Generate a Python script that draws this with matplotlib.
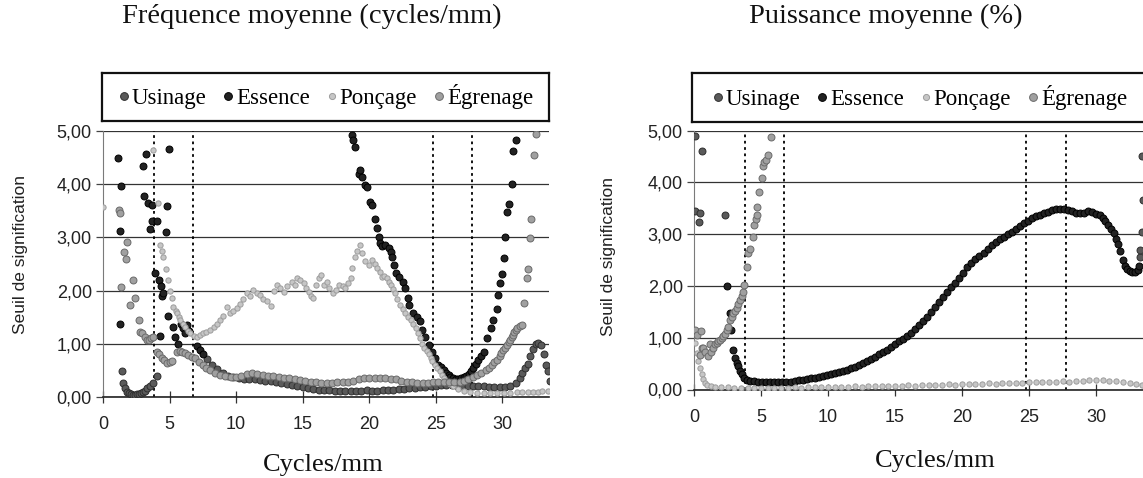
import matplotlib
matplotlib.use("Agg")
import matplotlib.pyplot as plt
from matplotlib.lines import Line2D
from matplotlib.ticker import FuncFormatter

SERIF = "Liberation Serif"
SANS = "Liberation Sans"

# --- Fréquence moyenne (cycles/mm) ---
fm_usinage_x = [1.43, 1.53, 1.65, 1.8, 1.95, 2.1, 2.25, 2.4, 2.55, 2.7, 2.85, 3.0, 3.15, 3.3, 3.5, 3.78, 4.08,
                7.8, 8.2, 8.6, 9.0, 9.4, 9.8, 10.2, 10.6, 11.0, 11.4, 11.8, 12.2, 12.6, 13.0, 13.4, 13.8, 14.2,
                14.6, 15.0, 15.4, 15.8, 16.2, 16.6, 17.0, 17.4, 17.8, 18.2, 18.6, 19.0, 19.4, 19.8, 20.2, 20.6,
                21.0, 21.4, 21.8, 22.2, 22.6, 23.0, 23.4, 23.8, 24.2, 24.6, 25.0, 25.4, 25.8, 26.2, 26.6, 27.0,
                27.4, 27.8, 28.2, 28.6, 29.0, 29.4, 29.8, 30.2, 30.6, 31.0, 31.3, 31.5, 31.7, 31.9, 32.1, 32.3,
                32.5, 32.7, 32.9, 33.1, 33.3, 33.4, 33.6]
fm_usinage_y = [0.48, 0.26, 0.16, 0.1, 0.07, 0.05, 0.04, 0.04, 0.05, 0.05, 0.07, 0.09, 0.12, 0.16, 0.2, 0.26, 0.4,
                0.72, 0.6, 0.52, 0.45, 0.4, 0.37, 0.35, 0.34, 0.33, 0.33, 0.32, 0.31, 0.3, 0.28, 0.26, 0.24, 0.22,
                0.2, 0.18, 0.16, 0.15, 0.14, 0.13, 0.13, 0.12, 0.12, 0.12, 0.12, 0.12, 0.12, 0.13, 0.12, 0.12,
                0.13, 0.13, 0.14, 0.15, 0.15, 0.16, 0.17, 0.18, 0.19, 0.2, 0.21, 0.22, 0.22, 0.22, 0.21, 0.21,
                0.2, 0.2, 0.2, 0.21, 0.19, 0.18, 0.18, 0.19, 0.21, 0.26, 0.35, 0.45, 0.55, 0.62, 0.78, 0.9,
                1.0, 1.02, 0.98, 0.8, 0.6, 0.48, 0.3]

fm_essence_x = [1.15, 1.35, 1.28, 1.28, 2.98, 3.23, 3.1, 3.41, 3.66, 3.66, 3.53, 4.03, 4.74, 4.84, 4.99, 3.91,
                4.24, 4.36, 4.41, 4.5, 4.29, 4.91, 5.29, 5.41, 5.6, 5.85, 6.0, 6.15, 6.3, 6.45, 7.09, 7.3, 7.5,
                18.7, 18.8, 18.95, 19.2, 19.3, 19.45, 19.7, 19.8, 20.08, 20.2, 20.45, 20.58, 20.7, 20.78, 20.95,
                21.2, 21.45, 21.6, 21.7, 21.83, 22.03, 22.2, 22.5, 22.7, 22.9, 23.0, 23.3, 23.6, 23.8, 23.96,
                24.2, 24.46, 24.7, 24.96, 25.2, 25.4, 25.6, 25.8, 25.96, 26.1, 26.3, 26.5, 26.7, 26.9, 27.1,
                27.3, 27.5, 27.65, 27.8, 28.0, 28.2, 28.4, 28.6, 28.85, 29.15, 29.3, 29.6, 29.7, 29.85, 29.98,
                30.1, 30.2, 30.35, 30.5, 30.7, 30.8, 31.0]
fm_essence_y = [4.5, 3.97, 3.12, 1.38, 4.35, 4.56, 3.78, 3.64, 3.61, 3.3, 3.15, 3.31, 3.11, 3.59, 4.67, 2.34,
                2.2, 2.09, 1.89, 1.95, 1.15, 1.52, 1.32, 1.13, 1.0, 1.38, 1.3, 1.2, 1.35, 1.25, 0.95, 0.88, 0.8,
                4.92, 4.83, 4.7, 4.19, 4.27, 4.14, 3.98, 3.95, 3.66, 3.6, 3.34, 3.17, 3.01, 2.89, 2.83,
                2.85, 2.81, 2.73, 2.64, 2.48, 2.33, 2.26, 2.17, 2.04, 1.86, 1.73, 1.57, 1.51, 1.42, 1.26,
                1.13, 0.98, 0.85, 0.73, 0.61, 0.56, 0.51, 0.45, 0.41, 0.38, 0.35, 0.34, 0.34, 0.35, 0.38,
                0.4, 0.44, 0.48, 0.55, 0.62, 0.7, 0.77, 0.85, 1.1, 1.29, 1.45, 1.65, 1.92, 2.14, 2.31,
                2.61, 3.01, 3.48, 3.62, 4.0, 4.62, 4.83]

fm_poncage_x = [0.02, 3.78, 4.16, 4.29, 4.4, 4.53, 4.7, 4.91, 5.05, 5.16, 5.29, 5.45, 5.54, 5.7, 5.79, 6.0, 6.17,
                6.35, 6.54, 6.8, 7.05, 7.3, 7.5, 7.75, 8.0, 8.3, 8.55, 8.8, 9.05, 9.3, 9.55, 9.8, 10.05, 10.3,
                10.55, 10.8, 11.05, 11.3, 11.55, 11.8, 12.05, 12.3, 12.6, 12.85, 13.06, 13.3, 13.56, 13.85, 14.19,
                14.4, 14.56, 14.8, 15.06, 15.25, 15.44, 15.6, 15.8, 16.0, 16.2, 16.4, 16.6, 16.8, 17.0, 17.3,
                17.5, 17.7, 18.0, 18.2, 18.4, 18.6, 18.7, 18.95, 19.1, 19.3, 19.45, 19.7, 19.95, 20.2, 20.4,
                20.6, 20.8, 20.95, 21.1, 21.3, 21.45, 21.6, 21.8, 21.95, 22.1, 22.3, 22.5, 22.7, 22.9, 23.1,
                23.3, 23.5, 23.65, 23.8, 23.95, 24.1, 24.3, 24.5, 24.6, 24.7, 24.9, 25.1, 25.3, 25.5, 25.65,
                25.8, 26.05, 26.3, 26.7, 27.1, 27.6, 28.1, 28.6, 29.1, 29.6, 30.1, 30.6, 31.1, 31.5, 31.9,
                32.3, 32.7, 33.0, 33.4]
fm_poncage_y = [3.58, 4.64, 3.64, 2.86, 2.75, 2.64, 2.4, 2.2, 2.0, 1.86, 1.7, 1.62, 1.58, 1.5, 1.45, 1.38, 1.32,
                1.25, 1.2, 1.15, 1.12, 1.17, 1.2, 1.22, 1.26, 1.32, 1.38, 1.45, 1.52, 1.7, 1.58, 1.61, 1.68, 1.74,
                1.85, 1.95, 1.9, 2.01, 1.96, 1.92, 1.85, 1.8, 1.71, 2.0, 2.11, 2.05, 1.98, 2.08, 2.17,
                2.1, 2.24, 2.2, 2.14, 2.05, 1.98, 1.9, 1.86, 2.1, 2.24, 2.29, 2.11, 2.17, 2.05, 1.95,
                2.02, 2.11, 2.08, 2.05, 2.15, 2.24, 2.42, 2.64, 2.75, 2.86, 2.7, 2.55, 2.48, 2.58, 2.5,
                2.42, 2.35, 2.26, 2.28, 2.23, 2.17, 2.11, 2.03, 1.95, 1.85, 1.73, 1.65, 1.57, 1.5, 1.45,
                1.38, 1.3, 1.2, 1.11, 1.0, 0.92, 0.86, 0.8, 0.73, 0.67, 0.6, 0.55, 0.48, 0.42, 0.36,
                0.3, 0.25, 0.2, 0.15, 0.11, 0.09, 0.08, 0.08, 0.08, 0.07, 0.08, 0.08, 0.09, 0.09, 0.1,
                0.1, 0.1, 0.11, 0.11]

fm_egrenage_x = [1.23, 1.25, 1.78, 1.58, 1.73, 2.23, 1.33, 2.41, 2.03, 2.73, 2.78, 2.95, 3.16, 3.3, 3.45, 3.6,
                 3.78, 4.04, 4.2, 4.41, 4.6, 4.79, 5.0, 5.16, 5.54, 5.75, 5.9, 6.15, 6.4, 6.65, 6.9, 7.2, 7.5,
                 7.75, 8.0, 8.4, 8.8, 9.2, 9.6, 10.0, 10.4, 10.8, 11.2, 11.6, 12.0, 12.4, 12.8, 13.2, 13.6, 14.0,
                 14.4, 14.8, 15.2, 15.6, 16.0, 16.4, 16.8, 17.2, 17.6, 18.0, 18.4, 18.8, 19.2, 19.6, 20.0, 20.4,
                 20.8, 21.2, 21.6, 22.0, 22.4, 22.8, 23.2, 23.6, 24.0, 24.4, 24.8, 25.2, 25.6, 26.0, 26.4, 26.8,
                 27.1, 27.4, 27.8, 28.1, 28.4, 28.8, 29.0, 29.2, 29.4, 29.6, 29.8, 29.9, 30.05, 30.2, 30.35,
                 30.5, 30.6, 30.7, 30.8, 30.9, 31.0, 31.1, 31.3, 31.5, 31.6, 31.85, 31.9, 32.05, 32.16, 32.4,
                 32.56]
fm_egrenage_y = [3.51, 3.46, 2.92, 2.72, 2.6, 2.2, 2.06, 1.86, 1.73, 1.45, 1.23, 1.2, 1.13, 1.08, 1.07, 1.1,
                 1.12, 0.85, 0.8, 0.73, 0.7, 0.64, 0.65, 0.67, 0.85, 0.87, 0.85, 0.83, 0.79, 0.76, 0.73, 0.66, 0.6,
                 0.55, 0.51, 0.46, 0.42, 0.39, 0.37, 0.37, 0.4, 0.43, 0.45, 0.44, 0.42, 0.4, 0.39, 0.37, 0.36, 0.35,
                 0.34, 0.32, 0.3, 0.29, 0.28, 0.27, 0.27, 0.27, 0.28, 0.28, 0.29, 0.31, 0.33, 0.35, 0.36, 0.36,
                 0.35, 0.35, 0.34, 0.33, 0.31, 0.29, 0.28, 0.27, 0.27, 0.27, 0.28, 0.28, 0.28, 0.28, 0.28, 0.29,
                 0.31, 0.34, 0.38, 0.41, 0.45, 0.5, 0.55, 0.6, 0.65, 0.7, 0.77, 0.82, 0.88, 0.93, 0.98,
                 1.03, 1.08, 1.12, 1.17, 1.22, 1.26, 1.3, 1.33, 1.36, 1.77, 2.24, 2.4, 2.98, 3.35, 4.54,
                 4.95]

# --- Puissance moyenne (%) ---
pm_usinage_x = [0.07, 0.57, 0.07, 0.45, 0.4, 2.31, 33.25, 33.3, 33.4, 33.5, 33.45]
pm_usinage_y = [4.89, 4.61, 3.44, 3.4, 3.23, 3.36, 2.55, 2.69, 3.04, 3.65, 4.5]

pm_essence_x = [2.49, 2.69, 2.74, 2.93, 3.06, 3.18, 3.3, 3.43, 3.56, 3.75, 3.93, 4.2, 4.5, 4.8, 5.1, 5.4, 5.7,
                6.0, 6.3, 6.6, 6.9, 7.2, 7.5, 7.8, 8.1, 8.4, 8.7, 9.0, 9.3, 9.6, 9.9, 10.2, 10.5, 10.8, 11.1,
                11.4, 11.7, 12.0, 12.3, 12.6, 12.9, 13.2, 13.5, 13.8, 14.1, 14.4, 14.7, 15.0, 15.3, 15.6, 15.9,
                16.2, 16.5, 16.8, 17.1, 17.4, 17.7, 18.0, 18.3, 18.6, 18.9, 19.2, 19.5, 19.8, 20.1, 20.4, 20.7,
                21.0, 21.3, 21.6, 21.9, 22.2, 22.5, 22.8, 23.1, 23.4, 23.7, 24.0, 24.3, 24.6, 24.9, 25.2, 25.5,
                25.8, 26.1, 26.4, 26.7, 27.0, 27.3, 27.6, 27.9, 28.2, 28.5, 28.8, 29.1, 29.4, 29.7, 30.0, 30.3,
                30.5, 30.7, 30.9, 31.1, 31.3, 31.45, 31.6, 31.8, 32.0, 32.15, 32.3, 32.5, 32.7, 32.9, 33.1, 33.2]
pm_essence_y = [2.0, 1.48, 1.14, 0.77, 0.61, 0.52, 0.45, 0.36, 0.29, 0.23, 0.19, 0.17, 0.16, 0.15, 0.15, 0.14, 0.14,
                0.14, 0.14, 0.14, 0.15, 0.15, 0.17, 0.18, 0.19, 0.2, 0.22, 0.23, 0.25, 0.26, 0.28, 0.3, 0.31, 0.33, 0.36,
                0.38, 0.41, 0.44, 0.48, 0.51, 0.55, 0.59, 0.63, 0.68, 0.72, 0.77, 0.83, 0.88, 0.93, 0.98, 1.04,
                1.1, 1.17, 1.25, 1.33, 1.4, 1.5, 1.6, 1.69, 1.78, 1.88, 1.97, 2.05, 2.15, 2.25, 2.36, 2.45,
                2.52, 2.58, 2.64, 2.72, 2.78, 2.85, 2.9, 2.94, 3.0, 3.05, 3.1, 3.16, 3.21, 3.26, 3.31, 3.34,
                3.37, 3.41, 3.43, 3.46, 3.48, 3.48, 3.49, 3.47, 3.44, 3.4, 3.41, 3.4, 3.45, 3.42, 3.39, 3.37,
                3.32, 3.26, 3.18, 3.1, 3.02, 2.9, 2.8, 2.67, 2.5, 2.38, 2.33, 2.28, 2.26, 2.27, 2.3, 2.38]

pm_poncage_x = [0.1, 0.2, 0.3, 0.45, 0.57, 0.7, 0.85, 1.0, 1.3, 1.6, 2.0, 2.5, 3.0, 3.5, 4.0, 4.5, 5.0, 5.5, 6.0,
                6.5, 7.0, 7.5, 8.0, 8.5, 9.0, 9.5, 10.0, 10.5, 11.0, 11.5, 12.0, 12.5, 13.0, 13.5, 14.0, 14.5,
                15.0, 15.5, 16.0, 16.5, 17.0, 17.5, 18.0, 18.5, 19.0, 19.5, 20.0, 20.5, 21.0, 21.5, 22.0, 22.5,
                23.0, 23.5, 24.0, 24.5, 25.0, 25.5, 26.0, 26.5, 27.0, 27.5, 28.0, 28.5, 29.0, 29.5, 30.0, 30.5,
                31.0, 31.5, 32.0, 32.5, 33.0, 33.4]
pm_poncage_y = [0.9, 0.7, 0.55, 0.42, 0.3, 0.2, 0.12, 0.08, 0.06, 0.05, 0.04, 0.04, 0.03, 0.03, 0.02, 0.03, 0.02,
                0.02, 0.03, 0.03, 0.03, 0.04, 0.03, 0.04, 0.04, 0.05, 0.04, 0.05, 0.05, 0.05, 0.06, 0.05, 0.06,
                0.06, 0.07, 0.06, 0.07, 0.07, 0.08, 0.07, 0.08, 0.09, 0.08, 0.09, 0.1, 0.09, 0.1, 0.11, 0.1, 0.11,
                0.12, 0.11, 0.12, 0.13, 0.12, 0.13, 0.14, 0.14, 0.15, 0.14, 0.15, 0.16, 0.15, 0.17, 0.16, 0.18,
                0.19, 0.18, 0.17, 0.16, 0.14, 0.13, 0.11, 0.09]

pm_egrenage_x = [0.07, 0.2, 0.5, 0.45, 0.57, 0.7, 0.85, 1.07, 1.19, 1.3, 1.45, 1.57, 1.7, 1.81, 1.95, 2.07, 2.2,
                 2.31, 2.45, 2.56, 2.69, 2.8, 2.93, 3.05, 3.19, 3.3, 3.43, 3.55, 3.68, 3.73, 3.93, 4.05, 4.18,
                 4.43, 4.5, 4.6, 4.68, 4.73, 4.87, 5.05, 5.17, 5.25, 5.37, 5.55, 5.72]
pm_egrenage_y = [1.15, 1.05, 1.12, 0.67, 0.8, 0.8, 0.72, 0.64, 0.87, 0.73, 0.8, 0.87, 0.9, 0.93, 0.96, 0.99, 1.04,
                 1.08, 1.15, 1.21, 1.34, 1.4, 1.47, 1.52, 1.57, 1.65, 1.73, 1.8, 1.89, 2.02, 2.37, 2.63, 2.72,
                 2.95, 3.18, 3.3, 3.37, 3.53, 3.82, 4.08, 4.31, 4.4, 4.44, 4.53, 4.88]

bandes = [3.8, 6.75, 24.8, 27.75]
x_ticks = [0, 5, 10, 15, 20, 25, 30]
y_ticks = [0, 1, 2, 3, 4, 5]

noms = ["Usinage", "Essence", "Ponçage", "Égrenage"]
styles = {
    "Usinage": dict(mfc="#5a5a5a", mec="#2e2e2e", ms=5.0),
    "Essence": dict(mfc="#222222", mec="#000000", ms=5.0),
    "Ponçage": dict(mfc="#c6c6c6", mec="#9c9c9c", ms=3.8),
    "Égrenage": dict(mfc="#a0a0a0", mec="#6a6a6a", ms=5.0),
}

W, H = 1143, 478
fig = plt.figure(figsize=(W / 100, H / 100), dpi=100)


def virgule(v, pos):
    return f"{v:.2f}".replace(".", ",")


def panneau(rect, series, leg_rect, titre, titre_xy, xlab_xy, ylab_xy):
    ax = fig.add_axes(rect)
    for nom in noms:
        xs, ys = series[nom]
        st = styles[nom]
        ax.plot(xs, ys, "o", ms=st["ms"], mfc=st["mfc"], mec=st["mec"], mew=0.7,
                ls="none", zorder=3, clip_on=True)
    for b in bandes:
        ax.axvline(b, color="black", lw=1.3, ls=(0, (1.5, 2)), zorder=2)
    ax.set_xlim(0, 33.5)
    ax.set_ylim(0, 5)
    ax.set_yticks(y_ticks)
    ax.set_xticks(x_ticks)
    ax.yaxis.set_major_formatter(FuncFormatter(virgule))
    ax.grid(axis="y", color="#333333", lw=0.9, zorder=1)
    ax.set_axisbelow(True)
    for s in ["top", "right"]:
        ax.spines[s].set_visible(False)
    ax.spines["left"].set_color("#7a7a7a")
    ax.spines["bottom"].set_color("#222222")
    ax.spines["bottom"].set_linewidth(1.2)
    ax.tick_params(axis="y", direction="out", length=5, width=0.9, colors="#444444",
                   labelcolor="#222222", labelsize=13, pad=3)
    ax.tick_params(axis="x", direction="inout", length=8, width=0.9, colors="#333333",
                   labelcolor="#222222", labelsize=13, pad=10)
    for lab in ax.get_xticklabels() + ax.get_yticklabels():
        lab.set_family(SANS)

    lax = fig.add_axes(leg_rect)
    lax.set_xticks([])
    lax.set_yticks([])
    for s in lax.spines.values():
        s.set_linewidth(1.6)
        s.set_color("#111111")
    handles = [Line2D([], [], marker="o", ls="none", ms=styles[n]["ms"] + 0.6,
                      mfc=styles[n]["mfc"], mec=styles[n]["mec"], mew=0.7) for n in noms]
    lax.legend(handles, noms, loc="center", ncol=4, frameon=False, handlelength=0.5,
               handletextpad=0.1, columnspacing=0.7, borderaxespad=0,
               prop={"family": SERIF, "size": 16.5})

    fig.text(titre_xy[0] / W, 1 - titre_xy[1] / H, titre, ha="center", va="center",
             family=SERIF, size=20.5, color="#111111")
    fig.text(xlab_xy[0] / W, 1 - xlab_xy[1] / H, "Cycles/mm", ha="center", va="center",
             family=SERIF, size=19, color="#111111")
    fig.text(ylab_xy[0] / W, 1 - ylab_xy[1] / H, "Seuil de signification", ha="center",
             va="center", rotation=90, family=SANS, size=12.5, color="#222222")
    return ax


serie_fm = {
    "Usinage": (fm_usinage_x, fm_usinage_y),
    "Essence": (fm_essence_x, fm_essence_y),
    "Ponçage": (fm_poncage_x, fm_poncage_y),
    "Égrenage": (fm_egrenage_x, fm_egrenage_y),
}
serie_pm = {
    "Usinage": (pm_usinage_x, pm_usinage_y),
    "Essence": (pm_essence_x, pm_essence_y),
    "Ponçage": (pm_poncage_x, pm_poncage_y),
    "Égrenage": (pm_egrenage_x, pm_egrenage_y),
}

panneau([103 / W, (H - 397) / H, 446 / W, 266 / H], serie_fm,
        [102 / W, (H - 121) / H, 447 / W, 48 / H],
        "Fréquence moyenne (cycles/mm)", (312, 16), (323, 465), (21, 254))
panneau([694 / W, (H - 389.5) / H, 449 / W, 259 / H], serie_pm,
        [692 / W, (H - 121.5) / H, 455 / W, 48.5 / H],
        "Puissance moyenne (%)", (886, 16), (935, 461), (608, 256))

fig.savefig("out.png", dpi=100)
